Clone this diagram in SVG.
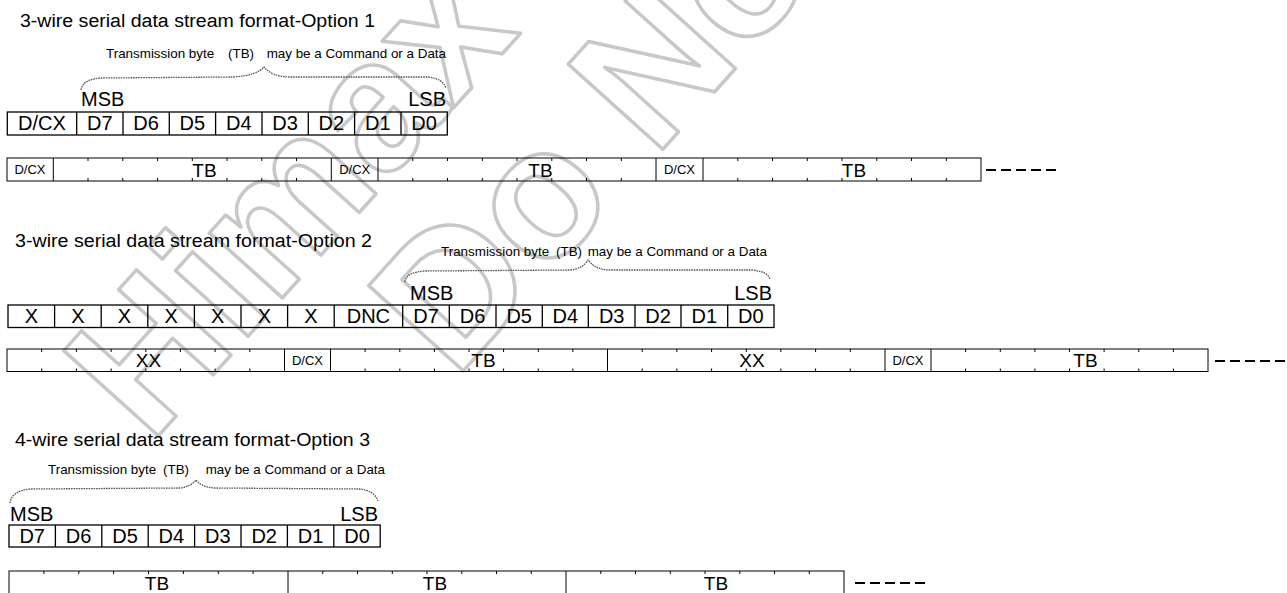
<svg xmlns="http://www.w3.org/2000/svg" width="1287" height="593" viewBox="0 0 1287 593">
<style>
text{font-family:"Liberation Sans",Arial,sans-serif;fill:#000}
.title{font-size:18px}
.note{font-size:13.4px}
.big{font-size:20px;text-anchor:middle}
.lbl{font-size:20px}
.sm{font-size:13px;text-anchor:middle}
.tb{font-size:19px;text-anchor:middle}
.box{fill:none;stroke:#000;stroke-width:1.3}
.strm{fill:none;stroke:#000;stroke-width:1}
.tick{fill:none;stroke:#000;stroke-width:1}
.brace{fill:none;stroke:#555;stroke-width:1.3;stroke-dasharray:1.6 0.9}
.dash{stroke:#000;stroke-width:2.2;stroke-dasharray:10 5}
.wm{font-family:"Liberation Sans",Arial,sans-serif;font-weight:bold;font-size:185px;fill:none;stroke:#c8c8c8;stroke-width:3.5;stroke-linejoin:round}
</style>
<rect width="1287" height="593" fill="#fff"/>
<g id="watermark">
<text class="wm" transform="translate(150,445) rotate(-48)">Himax Confidential</text>
<text class="wm" transform="translate(455,380) rotate(-48)">Do Not Copy</text>
</g>

<g id="option1">
<text class="title" x="20" y="27" textLength="355" lengthAdjust="spacingAndGlyphs">3-wire serial data stream format-Option 1</text>
<text class="note" x="106" y="58">Transmission byte</text>
<text class="note" x="228" y="58">(TB)</text>
<text class="note" x="446" y="58" text-anchor="end">may be a Command or a Data</text>
<path class="brace" d="M81,90 C82,82 90,79 100,78 L233,77 C250,76 260,72 264,67 C268,72 276,77 290,77 L428,77 C438,78 444,82 446,88"/>
<text class="lbl" x="81" y="106">MSB</text>
<text class="lbl" x="446" y="106" text-anchor="end">LSB</text>
</g>
<g id="row1">
<rect class="box" x="7.3" y="112" width="440" height="23"/>
<path class="box" d="M76.7,112V135M123,112V135M169.3,112V135M215.6,112V135M262,112V135M308.3,112V135M354.6,112V135M401,112V135"/>
<text class="big" x="42" y="130">D/CX</text>
<text class="big" x="99.8" y="130">D7</text>
<text class="big" x="146.1" y="130">D6</text>
<text class="big" x="192.4" y="130">D5</text>
<text class="big" x="238.8" y="130">D4</text>
<text class="big" x="285.1" y="130">D3</text>
<text class="big" x="331.4" y="130">D2</text>
<text class="big" x="377.8" y="130">D1</text>
<text class="big" x="424.1" y="130">D0</text>
</g>
<g id="stream1">
<rect class="strm" x="7" y="158" width="974" height="23"/>
<path class="strm" d="M53.3,158V181M331.3,158V181M378,158V181M656,158V181M703,158V181"/>
<path class="tick" d="M88,158v3M122.8,158v3M157.6,158v3M192.3,158v3M227,158v3M261.8,158v3M296.5,158v3M88,181v-3M122.8,181v-3M157.6,181v-3M192.3,181v-3M227,181v-3M261.8,181v-3M296.5,181v-3M412.8,158v3M447.5,158v3M482.3,158v3M517,158v3M551.8,158v3M586.5,158v3M621.3,158v3M412.8,181v-3M447.5,181v-3M482.3,181v-3M517,181v-3M551.8,181v-3M586.5,181v-3M621.3,181v-3M737.8,158v3M772.5,158v3M807.3,158v3M842,158v3M876.8,158v3M911.5,158v3M946.3,158v3M737.8,181v-3M772.5,181v-3M807.3,181v-3M842,181v-3M876.8,181v-3M911.5,181v-3M946.3,181v-3"/>
<text class="sm" x="30" y="174">D/CX</text>
<text class="tb" x="204.5" y="177">TB</text>
<text class="sm" x="354.7" y="174">D/CX</text>
<text class="tb" x="540.5" y="177">TB</text>
<text class="sm" x="679.5" y="174">D/CX</text>
<text class="tb" x="854" y="177">TB</text>
</g>

<g id="option2">
<text class="title" x="15" y="247" textLength="357" lengthAdjust="spacingAndGlyphs">3-wire serial data stream format-Option 2</text>
<text class="note" x="441" y="256">Transmission byte</text>
<text class="note" x="556" y="256">(TB)</text>
<text class="note" x="767" y="256" text-anchor="end">may be a Command or a Data</text>
<path class="brace" d="M405,282 C406,275 412,272 425,271 L570,270 C580,269 585,265 588,260 C592,265 598,270 610,270 L752,270 C763,271 768,274 770,279"/>
<text class="lbl" x="410" y="300">MSB</text>
<text class="lbl" x="772" y="300" text-anchor="end">LSB</text>
</g>
<g id="row2">
<rect class="box" x="8" y="305" width="766" height="22.5"/>
<path class="box" d="M54.6,305V327.5M101.2,305V327.5M147.8,305V327.5M194.4,305V327.5M241,305V327.5M287.6,305V327.5M334.2,305V327.5M402.7,305V327.5M449.3,305V327.5M496,305V327.5M542.3,305V327.5M588.3,305V327.5M635,305V327.5M681,305V327.5M727.7,305V327.5"/>
<text class="big" x="31.3" y="323">X</text>
<text class="big" x="77.9" y="323">X</text>
<text class="big" x="124.5" y="323">X</text>
<text class="big" x="171.1" y="323">X</text>
<text class="big" x="217.7" y="323">X</text>
<text class="big" x="264.3" y="323">X</text>
<text class="big" x="310.9" y="323">X</text>
<text class="big" x="368.4" y="323">DNC</text>
<text class="big" x="426" y="323">D7</text>
<text class="big" x="472.6" y="323">D6</text>
<text class="big" x="519.2" y="323">D5</text>
<text class="big" x="565.3" y="323">D4</text>
<text class="big" x="611.7" y="323">D3</text>
<text class="big" x="658" y="323">D2</text>
<text class="big" x="704.4" y="323">D1</text>
<text class="big" x="750.8" y="323">D0</text>
</g>
<g id="stream2">
<rect class="strm" x="7" y="349" width="1201" height="22.5"/>
<path class="strm" d="M284.5,349V371.5M330.5,349V371.5M607.5,349V371.5M885,349V371.5M931,349V371.5"/>
<path class="tick" d="M41.7,349v3M76.4,349v3M111.1,349v3M145.8,349v3M180.4,349v3M215.1,349v3M249.8,349v3M41.7,371.5v-3M76.4,371.5v-3M111.1,371.5v-3M145.8,371.5v-3M180.4,371.5v-3M215.1,371.5v-3M249.8,371.5v-3M365.1,349v3M399.8,349v3M434.4,349v3M469,349v3M503.6,349v3M538.3,349v3M572.9,349v3M365.1,371.5v-3M399.8,371.5v-3M434.4,371.5v-3M469,371.5v-3M503.6,371.5v-3M538.3,371.5v-3M572.9,371.5v-3M642.2,349v3M676.9,349v3M711.6,349v3M746.3,349v3M780.9,349v3M815.6,349v3M850.3,349v3M642.2,371.5v-3M676.9,371.5v-3M711.6,371.5v-3M746.3,371.5v-3M780.9,371.5v-3M815.6,371.5v-3M850.3,371.5v-3M965.6,349v3M1000.3,349v3M1034.9,349v3M1069.5,349v3M1104.1,349v3M1138.8,349v3M1173.4,349v3M965.6,371.5v-3M1000.3,371.5v-3M1034.9,371.5v-3M1069.5,371.5v-3M1104.1,371.5v-3M1138.8,371.5v-3M1173.4,371.5v-3"/>
<text class="tb" x="148.5" y="367">XX</text>
<text class="sm" x="307.5" y="365">D/CX</text>
<text class="tb" x="483.5" y="367">TB</text>
<text class="tb" x="752" y="367">XX</text>
<text class="sm" x="908" y="365">D/CX</text>
<text class="tb" x="1085.5" y="367">TB</text>
</g>

<g id="option3">
<text class="title" x="15" y="446" textLength="355" lengthAdjust="spacingAndGlyphs">4-wire serial data stream format-Option 3</text>
<text class="note" x="48" y="474">Transmission byte</text>
<text class="note" x="163" y="474">(TB)</text>
<text class="note" x="385" y="474" text-anchor="end">may be a Command or a Data</text>
<path class="brace" d="M10,503 C11,495 18,490 30,489 L180,488 C188,487 193,484 196,480 C199,484 204,487 214,488 L360,489 C370,490 376,495 378,501"/>
<text class="lbl" x="10" y="521">MSB</text>
<text class="lbl" x="378" y="521" text-anchor="end">LSB</text>
</g>
<g id="row3">
<rect class="box" x="9" y="525" width="371.2" height="22"/>
<path class="box" d="M55.4,525V547M101.8,525V547M148.2,525V547M194.6,525V547M241,525V547M287.4,525V547M333.8,525V547"/>
<text class="big" x="32.2" y="542.5">D7</text>
<text class="big" x="78.6" y="542.5">D6</text>
<text class="big" x="125" y="542.5">D5</text>
<text class="big" x="171.4" y="542.5">D4</text>
<text class="big" x="217.8" y="542.5">D3</text>
<text class="big" x="264.2" y="542.5">D2</text>
<text class="big" x="310.6" y="542.5">D1</text>
<text class="big" x="357" y="542.5">D0</text>
</g>
<g id="stream3">
<rect class="strm" x="9" y="571" width="835" height="30"/>
<path class="strm" d="M288,571V601M566,571V601"/>
<path class="tick" d="M43.9,571v3M78.8,571v3M113.6,571v3M148.5,571v3M183.4,571v3M218.3,571v3M253.1,571v3M322.8,571v3M357.5,571v3M392.3,571v3M427,571v3M461.8,571v3M496.5,571v3M531.3,571v3M600.8,571v3M635.5,571v3M670.3,571v3M705,571v3M739.8,571v3M774.5,571v3M809.3,571v3"/>
<text class="tb" x="157" y="590">TB</text>
<text class="tb" x="435" y="590">TB</text>
<text class="tb" x="716" y="590">TB</text>
</g>

<g id="connectors">
<line class="dash" x1="986" y1="170" x2="1060" y2="170"/>
<line class="dash" x1="1215" y1="361" x2="1287" y2="361"/>
<line class="dash" x1="855" y1="583" x2="925" y2="583"/>
</g>
</svg>
